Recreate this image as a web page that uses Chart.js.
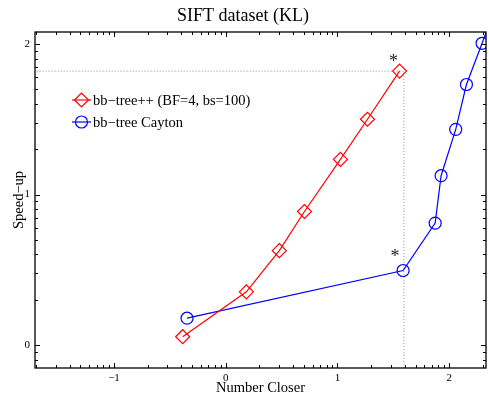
<!DOCTYPE html>
<html>
<head>
<meta charset="utf-8">
<script src="https://cdn.jsdelivr.net/npm/chart.js@4/dist/chart.umd.min.js"></script>
<style>
  html, body { margin: 0; padding: 0; background: #fff; }
  #wrap { width: 489px; height: 394px; }
</style>
</head>
<body>
<div id="wrap"><canvas id="myChart" width="489" height="394"></canvas></div>
<script>
// values are log10 of "Number Closer" and "Speed-up"
const bbTreeX = [-0.385, 0.185, 0.48, 0.705, 1.027, 1.269, 1.556];
const bbTreeY = [0.055, 0.353, 0.627, 0.887, 1.233, 1.5, 1.82];
const caytonX = [-0.346, 1.588, 1.875, 1.928, 2.059, 2.155, 2.295, 2.43];
const caytonY = [0.178, 0.495, 0.81, 1.125, 1.433, 1.731, 2.005, 2.28];
const guideX = [-1.8, 1.595, 1.595];
const guideY = [1.82, 1.82, -0.3];
const starX = [1.556, 1.588];
const starY = [1.82, 0.495];
const xTicks = [-1, 0, 1, 2];
const yTicks = [0, 1, 2];
const seriesLabels = ["bb\u2212tree++ (BF=4, bs=100)", "bb\u2212tree Cayton"];

const serif = "'Liberation Serif', 'DejaVu Serif', serif";

function toPoints(xs, ys) {
  return xs.map((x, i) => ({ x: x, y: ys[i] }));
}

function minorTicks(min, max) {
  let out = [];
  for (let n = -3; n <= 3; n++) {
    for (let k = 2; k <= 9; k++) {
      let v = n + Math.log10(k);
      if (v > min && v < max) out.push(v);
    }
  }
  return out;
}

const frameAndTicks = {
  id: "frameAndTicks",
  afterDatasetsDraw(chart) {
    const ctx = chart.ctx;
    const a = chart.chartArea;
    const xs = chart.scales.x;
    const ys = chart.scales.y;
    ctx.save();
    ctx.strokeStyle = "#000";
    ctx.lineWidth = 1;
    ctx.beginPath();
    xTicks.forEach(v => {
      let p = Math.round(xs.getPixelForValue(v)) + 0.5;
      ctx.moveTo(p, a.bottom); ctx.lineTo(p, a.bottom - 5);
      ctx.moveTo(p, a.top); ctx.lineTo(p, a.top + 5);
    });
    minorTicks(xs.min, xs.max).forEach(v => {
      let p = Math.round(xs.getPixelForValue(v)) + 0.5;
      ctx.moveTo(p, a.bottom); ctx.lineTo(p, a.bottom - 3);
      ctx.moveTo(p, a.top); ctx.lineTo(p, a.top + 3);
    });
    yTicks.forEach(v => {
      let p = Math.round(ys.getPixelForValue(v)) + 0.5;
      ctx.moveTo(a.left, p); ctx.lineTo(a.left + 5, p);
      ctx.moveTo(a.right, p); ctx.lineTo(a.right - 5, p);
    });
    minorTicks(ys.min, ys.max).forEach(v => {
      let p = Math.round(ys.getPixelForValue(v)) + 0.5;
      ctx.moveTo(a.left, p); ctx.lineTo(a.left + 3, p);
      ctx.moveTo(a.right, p); ctx.lineTo(a.right - 3, p);
    });
    ctx.stroke();
    ctx.lineWidth = 1.3;
    ctx.strokeRect(a.left, a.top, a.right - a.left, a.bottom - a.top);

    // asterisks marking the chosen points
    ctx.fillStyle = "#222";
    ctx.font = "18px " + serif;
    ctx.textAlign = "center";
    ctx.textBaseline = "middle";
    const offs = [[-6, -9], [-8, -13]];
    starX.forEach((x, i) => {
      ctx.fillText("*", xs.getPixelForValue(x) + offs[i][0], ys.getPixelForValue(starY[i]) + offs[i][1]);
    });
    ctx.restore();
  }
};

const insideLegend = {
  id: "insideLegend",
  afterDraw(chart) {
    const ctx = chart.ctx;
    const rows = [100, 122];
    ctx.save();
    ctx.font = "14.5px " + serif;
    ctx.textBaseline = "middle";
    [0, 1].forEach(i => {
      const ds = chart.data.datasets[i];
      const y = rows[i];
      ctx.strokeStyle = ds.borderColor;
      ctx.fillStyle = "rgba(0,0,0,0)";
      ctx.lineWidth = 1.2;
      ctx.beginPath();
      ctx.moveTo(72, y); ctx.lineTo(91, y);
      ctx.stroke();
      Chart.helpers.drawPoint(ctx, {
        pointStyle: ds.pointStyle, radius: ds.pointRadius, borderWidth: 1.2
      }, 81.5, y);
      ctx.fillStyle = "#000";
      ctx.fillText(seriesLabels[i], 93, y + 1);
    });
    ctx.restore();
  }
};

new Chart(document.getElementById("myChart").getContext("2d"), {
  type: "line",
  data: {
    datasets: [
      {
        label: seriesLabels[0],
        data: toPoints(bbTreeX, bbTreeY),
        borderColor: "rgb(255,0,0)",
        backgroundColor: "rgba(0,0,0,0)",
        pointStyle: "rectRot",
        pointRadius: 7,
        pointBorderWidth: 1.2,
        pointBackgroundColor: "rgba(0,0,0,0)",
        borderWidth: 1.2,
        fill: false
      },
      {
        label: seriesLabels[1],
        data: toPoints(caytonX, caytonY),
        borderColor: "rgb(0,0,255)",
        backgroundColor: "rgba(0,0,0,0)",
        pointStyle: "circle",
        pointRadius: 6,
        pointBorderWidth: 1.2,
        pointBackgroundColor: "rgba(0,0,0,0)",
        borderWidth: 1.2,
        fill: false
      },
      {
        label: "guide",
        data: toPoints(guideX, guideY),
        borderColor: "#888",
        borderWidth: 1,
        borderDash: [1, 2],
        pointRadius: 0,
        fill: false
      }
    ]
  },
  plugins: [frameAndTicks, insideLegend],
  options: {
    responsive: false,
    animation: false,
    layout: { autoPadding: false, padding: { top: 0, right: 3, bottom: 0, left: 0 } },
    plugins: {
      legend: { display: false },
      tooltip: { enabled: false },
      title: {
        display: true,
        text: "SIFT dataset (KL)",
        color: "#000",
        font: { family: serif, size: 18, weight: "normal" },
        padding: { top: 5, bottom: 5.4 }
      }
    },
    scales: {
      x: {
        type: "linear",
        min: -1.707,
        max: 2.33,
        grid: { display: false, drawTicks: false },
        border: { display: false },
        afterBuildTicks: s => { s.ticks = xTicks.map(v => ({ value: v })); },
        afterFit: s => { s.height = 26; s.paddingLeft = 0; s.paddingRight = 0; },
        ticks: {
          color: "#000",
          padding: 4,
          font: { family: serif, size: 11 },
          callback: v => String(v).replace("-", "\u2212")
        },
        title: {
          display: true,
          text: "Number Closer",
          color: "#000",
          font: { family: serif, size: 14.5 },
          padding: { top: 0, bottom: -3 }
        }
      },
      y: {
        type: "linear",
        min: -0.153,
        max: 2.08,
        grid: { display: false, drawTicks: false },
        border: { display: false },
        afterBuildTicks: s => { s.ticks = yTicks.map(v => ({ value: v })); },
        afterFit: s => { s.width = 35; s.paddingTop = 0; s.paddingBottom = 0; },
        ticks: {
          color: "#000",
          padding: 5,
          font: { family: serif, size: 11 }
        },
        title: {
          display: true,
          text: "Speed\u2212up",
          color: "#000",
          font: { family: serif, size: 14.5 },
          padding: { top: 10, bottom: 0 }
        }
      }
    }
  }
});
</script>
</body>
</html>
